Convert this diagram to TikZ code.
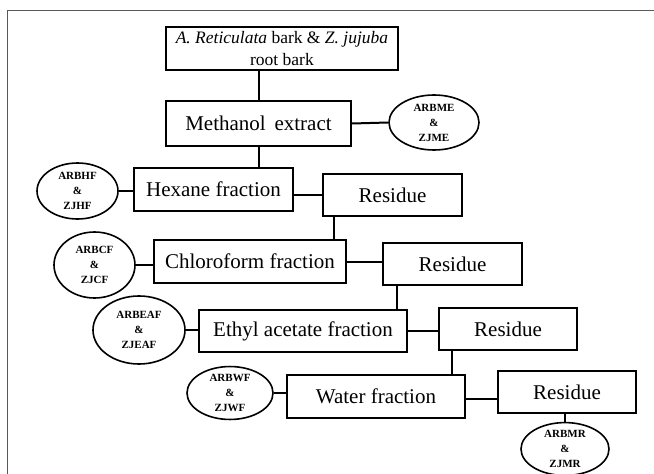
\documentclass[tikz,border=0pt]{standalone}
\usepackage{fontspec}
\setmainfont{Liberation Serif}
\usetikzlibrary{shapes.geometric}
\begin{document}
\begin{tikzpicture}[x=1pt,y=-1pt,
  stepbox/.style={draw=black,line width=1.8pt,rectangle,inner sep=0pt,align=center,font=\fontsize{21}{25}\selectfont},
  tag/.style={draw=black,line width=1.6pt,ellipse,inner sep=0pt,align=center,font=\fontsize{11}{15}\selectfont\bfseries},
  link/.style={line width=2pt,draw=black}]
\useasboundingbox (0,0) rectangle (654,474);
\fill[white] (0,0) rectangle (654,474);
% slide frame
\draw[line width=1.3pt,gray!70!black] (654,10.5) -- (7.5,10.5) -- (7.5,474);
% boxes
\node[stepbox,minimum width=232pt,minimum height=43pt,font=\fontsize{17.5}{21.5}\selectfont] (top) at (282,48.5) {\textit{A. Reticulata} bark \& \textit{Z. jujuba}\\root bark};
\node[stepbox,minimum width=185pt,minimum height=45pt] (meth) at (258.5,123.5) {Methanol\, extract};
\node[tag,minimum width=90pt,minimum height=55pt] (arbme) at (434,122.5) {ARBME\\\&\\ZJME};
\node[stepbox,minimum width=159pt,minimum height=43pt] (hex) at (213.5,189.5) {Hexane fraction};
\node[tag,minimum width=81pt,minimum height=56pt] (arbhf) at (77.5,191) {ARBHF\\\&\\ZJHF};
\node[stepbox,minimum width=139pt,minimum height=42pt] (res1) at (392.5,195) {Residue};
\node[stepbox,minimum width=192pt,minimum height=43pt] (chl) at (250,261.5) {Chloroform fraction};
\node[tag,minimum width=81pt,minimum height=66pt] (arbcf) at (94.5,265) {ARBCF\\\&\\ZJCF};
\node[stepbox,minimum width=139pt,minimum height=42pt] (res2) at (452.5,264) {Residue};
\node[stepbox,minimum width=208pt,minimum height=42pt] (eth) at (303,331) {Ethyl acetate fraction};
\node[tag,minimum width=92pt,minimum height=68pt] (arbeaf) at (139,330) {ARBEAF\\\&\\ZJEAF};
\node[stepbox,minimum width=138pt,minimum height=42pt] (res3) at (508,329) {Residue};
\node[stepbox,minimum width=178pt,minimum height=43pt] (wat) at (376,396.5) {Water fraction};
\node[tag,minimum width=86pt,minimum height=50pt] (arbwf) at (230,393) {ARBWF\\\&\\ZJWF};
\node[stepbox,minimum width=138pt,minimum height=42pt] (res4) at (567,392) {Residue};
\node[tag,minimum width=88pt,minimum height=52pt] (arbmr) at (565,449) {ARBMR\\\&\\ZJMR};
% connectors
\draw[link] (top.south -| meth.north) -- (meth.north);
\draw[link] (meth.east) -- (arbme.west);
\draw[link] (meth.south) -- (meth.south |- hex.north);
\draw[link] (arbhf.east) -- (arbhf.east -| hex.west);
\draw[link] (res1.west -| hex.east) -- (res1.west);
\draw[link] ([xshift=12pt]res1.south west) -- ([xshift=12pt]res1.south west |- chl.north);
\draw[link] (chl.east) -- (chl.east -| res2.west);
\draw[link] (arbcf.east) -- (arbcf.east -| chl.west);
\draw[link] ([xshift=15pt]res2.south west) -- ([xshift=15pt]res2.south west |- eth.north);
\draw[link] (eth.east) -- (eth.east -| res3.west);
\draw[link] (arbeaf.east) -- (arbeaf.east -| eth.west);
\draw[link] ([xshift=14pt]res3.south west) -- ([xshift=14pt]res3.south west |- wat.north);
\draw[link] ([yshift=-2.5pt]wat.east) -- ([yshift=-2.5pt]wat.east -| res4.west);
\draw[link] (arbwf.east) -- (arbwf.east -| wat.west);
\draw[link] (res4.south -| arbmr.north) -- (arbmr.north);
\end{tikzpicture}
\end{document}
